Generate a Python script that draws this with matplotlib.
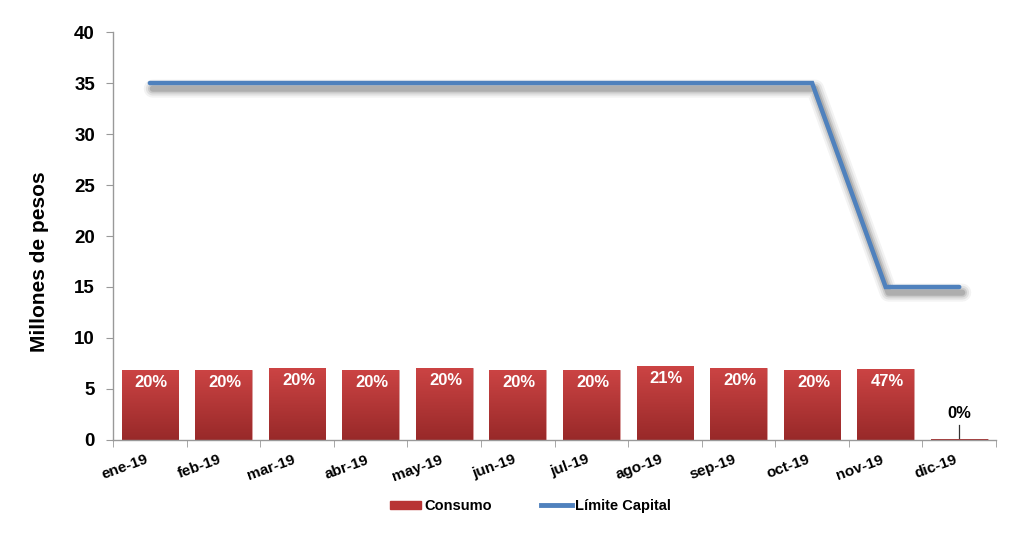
import matplotlib
matplotlib.use("Agg")
import matplotlib.pyplot as plt
import numpy as np
from matplotlib.patches import Patch
from matplotlib.lines import Line2D
from matplotlib.colors import LinearSegmentedColormap

plt.rcParams['font.family'] = ['Liberation Sans', 'DejaVu Sans']

months = ['ene-19', 'feb-19', 'mar-19', 'abr-19', 'may-19', 'jun-19',
          'jul-19', 'ago-19', 'sep-19', 'oct-19', 'nov-19', 'dic-19']
consumo = [6.9, 6.9, 7.05, 6.9, 7.1, 6.9, 6.9, 7.25, 7.1, 6.9, 7.0, 0.1]
pct_labels = ['20%', '20%', '20%', '20%', '20%', '20%', '20%', '21%', '20%', '20%', '47%', '0%']
limite = [35, 35, 35, 35, 35, 35, 35, 35, 35, 35, 15, 15]

fig = plt.figure(figsize=(10.24, 5.39), dpi=100)
ax = fig.add_axes([0.1104, 0.1837, 0.8623, 0.7569])

x = np.arange(len(months))
bars = ax.bar(x, consumo, width=0.77, color='#B83535', edgecolor='#D9A0A0', linewidth=0.6, zorder=2)

grad = np.linspace(0, 1, 256).reshape(-1, 1)
cmap = LinearSegmentedColormap.from_list('r', ['#CC4444', '#982929'])
for b in bars:
    bx, by, bw, bh = b.get_x(), b.get_y(), b.get_width(), b.get_height()
    im = ax.imshow(grad, extent=[bx, bx + bw, by, by + bh], aspect='auto',
                   cmap=cmap, zorder=2.5, origin='upper')
    im.set_clip_path(b)

for i, (v, lab) in enumerate(zip(consumo, pct_labels)):
    if v > 1:
        ax.text(i + 0.02, v - 1.25, lab, ha='center', va='center', color='white',
                fontsize=12, fontweight='bold', zorder=4)
    else:
        ax.text(i, 2.6, lab, ha='center', va='center', color='black',
                fontsize=12, fontweight='bold', zorder=4)
        ax.plot([i, i], [1.45, v + 0.05], color='#333333', lw=0.9, zorder=4)

# soft shadow under the line
for off, a, w in [(-0.55, 0.06, 13), (-0.55, 0.09, 10), (-0.55, 0.13, 7), (-0.55, 0.18, 4.5)]:
    ax.plot(x + 0.04, np.array(limite) + off, color='#333333', lw=w, alpha=a,
            solid_capstyle='round', solid_joinstyle='round', zorder=2.8)
ax.plot(x, limite, color='#4F81BD', lw=3.2, solid_capstyle='round',
        solid_joinstyle='miter', zorder=3)

ax.set_xlim(-0.5, len(months) - 0.5)
ax.set_ylim(0, 40)
ax.set_yticks(range(0, 41, 5))
ax.set_yticklabels([str(t) for t in range(0, 41, 5)], fontsize=13.5, fontweight='bold')
ax.set_xticks(x)
ax.set_xticklabels(months, rotation=20, fontsize=11, fontweight='bold', ha='right')
ax.tick_params(axis='x', length=0, pad=9)
ax.set_xticks(np.arange(-0.5, len(months)), minor=True)
ax.tick_params(axis='x', which='minor', length=5, color='#999999', direction='out')
ax.tick_params(axis='y', length=5, color='#999999', direction='out', pad=8)

for s in ['top', 'right']:
    ax.spines[s].set_visible(False)
for s in ['left', 'bottom']:
    ax.spines[s].set_color('#999999')
    ax.spines[s].set_linewidth(1)

fig.text(0.039, 0.514, 'Millones de pesos', rotation=90, ha='center', va='center',
         fontsize=15, fontweight='bold')

handles = [Patch(facecolor='#B83535', edgecolor='#B83535'),
           Line2D([0], [0], color='#4F81BD', lw=3.5)]
fig.legend(handles, ['Consumo', 'Límite Capital'], loc='center', bbox_to_anchor=(0.518, 0.061),
           ncol=2, frameon=False, prop={'weight': 'bold', 'size': 10.5},
           handlelength=2.1, handleheight=0.55, columnspacing=3.4, handletextpad=0.2)

fig.savefig('out.png', dpi=100)
